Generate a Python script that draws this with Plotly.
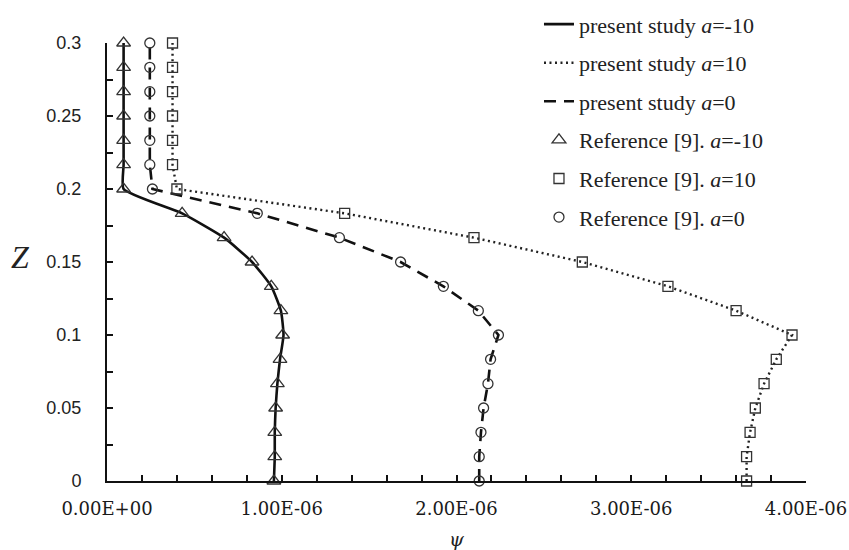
import plotly.graph_objects as go

# ---------------- data ----------------
z = [0, 1/60, 2/60, 3/60, 4/60, 5/60, 6/60, 7/60, 8/60, 9/60, 10/60,
     11/60, 12/60, 13/60, 14/60, 15/60, 16/60, 17/60, 18/60]

# reference [9] values (psi)
ref_am10 = [0.955e-6, 0.96e-6, 0.96e-6, 0.965e-6, 0.975e-6, 0.99e-6, 1.005e-6, 0.995e-6,
            0.94e-6, 0.83e-6, 0.67e-6, 0.43e-6, 0.095e-6, 0.095e-6, 0.095e-6, 0.095e-6,
            0.095e-6, 0.095e-6, 0.095e-6]
ref_a10 = [3.66e-6, 3.66e-6, 3.68e-6, 3.71e-6, 3.76e-6, 3.83e-6, 3.92e-6, 3.60e-6,
           3.21e-6, 2.72e-6, 2.10e-6, 1.36e-6, 0.40e-6, 0.375e-6, 0.375e-6, 0.375e-6,
           0.375e-6, 0.375e-6, 0.375e-6]
ref_a0 = [2.13e-6, 2.13e-6, 2.14e-6, 2.155e-6, 2.18e-6, 2.195e-6, 2.24e-6, 2.125e-6,
          1.925e-6, 1.68e-6, 1.33e-6, 0.86e-6, 0.26e-6, 0.245e-6, 0.245e-6, 0.245e-6,
          0.245e-6, 0.245e-6, 0.245e-6]

# present study values (psi)
ps_am10 = [0.955e-6, 0.96e-6, 0.96e-6, 0.965e-6, 0.975e-6, 0.99e-6, 1.01e-6, 0.995e-6,
           0.94e-6, 0.83e-6, 0.67e-6, 0.43e-6, 0.095e-6, 0.095e-6, 0.095e-6, 0.095e-6,
           0.095e-6, 0.095e-6, 0.095e-6]
ps_a10 = ref_a10
ps_a0 = ref_a0

x_tickvals = [0, 1e-6, 2e-6, 3e-6, 4e-6]
x_ticktext = ["0.00E+00", "1.00E-06", "2.00E-06", "3.00E-06", "4.00E-06"]
x_minorvals = [i * 0.2e-6 for i in range(21)]

fig = go.Figure()

# present study lines
fig.add_trace(go.Scatter(x=ps_am10, y=z, mode="lines", name="present study <i>a</i>=-10",
                         legendgroup="g1",
                         line=dict(color="#111", width=2.6, shape="spline", smoothing=0.5),
                         cliponaxis=False))
fig.add_trace(go.Scatter(x=ps_a10, y=z, mode="lines", name="present study <i>a</i>=10",
                         legendgroup="g2",
                         line=dict(color="#222", width=2.4, dash="2px,3.5px"),
                         cliponaxis=False))
fig.add_trace(go.Scatter(x=ps_a0, y=z, mode="lines", name="present study <i>a</i>=0",
                         legendgroup="g3",
                         line=dict(color="#111", width=2.6, dash="12px,8px"),
                         cliponaxis=False))

# reference markers
mk_line = dict(color="#333", width=1.3)
fig.add_trace(go.Scatter(x=ref_am10, y=z, mode="markers", name="Reference [9]. <i>a</i>=-10",
                         legendgroup="g4",
                         marker=dict(symbol="triangle-up-open", size=12, color="#333", line=mk_line),
                         cliponaxis=False))
fig.add_trace(go.Scatter(x=ref_a10, y=z, mode="markers", name="Reference [9]. <i>a</i>=10",
                         legendgroup="g5",
                         marker=dict(symbol="square-open", size=10, color="#333", line=mk_line),
                         cliponaxis=False))
fig.add_trace(go.Scatter(x=ref_a0, y=z, mode="markers", name="Reference [9]. <i>a</i>=0",
                         legendgroup="g6",
                         marker=dict(symbol="circle-open", size=10, color="#333", line=mk_line),
                         cliponaxis=False))

fig.update_layout(
    width=849, height=550,
    margin=dict(l=107, r=43, t=43, b=69, autoexpand=False),
    paper_bgcolor="white", plot_bgcolor="white",
    showlegend=True,
    legend=dict(x=0.618, xanchor="left", xref="paper", y=0.994, yanchor="top", yref="container",
                font=dict(family="Liberation Serif", size=22, color="#222"),
                bgcolor="rgba(0,0,0,0)", tracegroupgap=7, itemwidth=30),
    xaxis=dict(range=[0, 4e-6], tickmode="array", tickvals=x_tickvals, ticktext=x_ticktext,
               automargin=False,
               showgrid=False, zeroline=False, showline=True, linecolor="#111", linewidth=2,
               ticks="inside", ticklen=6, tickwidth=2, tickcolor="#111",
               minor=dict(tickmode="array", tickvals=x_minorvals, ticks="inside",
                          ticklen=6, tickwidth=2, tickcolor="#111", showgrid=False),
               tickfont=dict(family="DejaVu Serif", size=18, color="#1a1a1a"),
               ticklabelstandoff=10,
               title=dict(text="<i>ψ</i>", font=dict(family="DejaVu Serif", size=19, color="#222"),
                          standoff=32)),
    yaxis=dict(range=[0, 0.3], dtick=0.05, tick0=0, automargin=False,
               showgrid=False, zeroline=False, showline=True, linecolor="#111", linewidth=2,
               ticks="inside", ticklen=6, tickwidth=2, tickcolor="#111",
               minor=dict(dtick=0.025, ticks="inside", ticklen=6, tickwidth=2,
                          tickcolor="#111", showgrid=False),
               tickfont=dict(family="Liberation Sans", size=18, color="#222"),
               ticklabelstandoff=20),
    annotations=[dict(text="<i>Z</i>", xref="paper", yref="paper", x=-0.140, y=0.512,
                      showarrow=False, font=dict(family="Liberation Serif", size=32, color="#222"))],
)

fig.write_html("out.html")
